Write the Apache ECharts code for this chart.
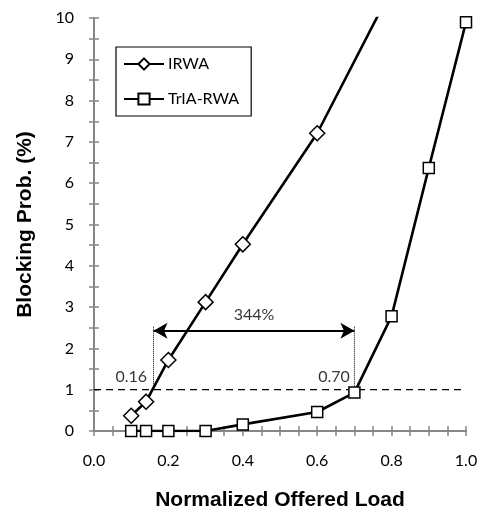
<!DOCTYPE html>
<html><head><meta charset="utf-8">
<script src="https://cdn.jsdelivr.net/npm/echarts@6/dist/echarts.min.js"></script>
<style>html,body{margin:0;padding:0;background:#fff}#c{width:480px;height:512px}</style>
</head><body><div id="c"></div>
<script>
const loadIRWA = [0.1, 0.14, 0.2, 0.3, 0.4, 0.6, 0.8];
const probIRWA = [0.37, 0.71, 1.72, 3.12, 4.52, 7.21, 10.7];
const loadTrIA = [0.1, 0.14, 0.2, 0.3, 0.4, 0.6, 0.7, 0.8, 0.9, 1.0];
const probTrIA = [0.0, 0.0, 0.0, 0.0, 0.16, 0.46, 0.93, 2.78, 6.37, 9.9];
const thresholdY = 1;
const markX = [0.16, 0.70];
const arrowY = 2.43;
const dottedTop = 2.55;
const annotations = [
  {name: '0.16', x: 0.10, y: 1.31},
  {name: '0.70', x: 0.645, y: 1.31},
  {name: '344%', x: 0.43, y: 2.82}
];
const xTicks = [0, 0.2, 0.4, 0.6, 0.8, 1.0];

const axisGrey = '#868686';
const tickFont = 'Lato';
const chart = echarts.init(document.getElementById('c'), null, {renderer: 'canvas'});
const zip = (a, b) => a.map((v, i) => [v, b[i]]);

const commonAxisLine = {show: true, lineStyle: {color: axisGrey, width: 2}};
const commonTick = {show: true, inside: true, length: 5, lineStyle: {color: axisGrey, width: 1.5}};
const commonMinor = {show: true, length: 5, lineStyle: {color: axisGrey, width: 1.5}};

chart.setOption({
  animation: false,
  grid: {left: 94, right: 14, top: 18, bottom: 81, containLabel: false, outerBoundsMode: 'none'},
  legend: {
    data: ['IRWA', 'TrIA-RWA'],
    orient: 'vertical', left: 116, top: 47,
    borderColor: '#000', borderWidth: 1.2,
    padding: [9, 12, 9, 7],
    itemWidth: 40, itemHeight: 14, itemGap: 19,
    textStyle: {fontFamily: tickFont, fontSize: 16, color: '#000', padding: [0, 0, 0, -1]}
  },
  xAxis: [{
    type: 'value', min: 0, max: 1, interval: 0.2,
    name: 'Normalized Offered Load', nameLocation: 'middle', nameGap: 59,
    nameTextStyle: {fontFamily: 'Liberation Sans', fontWeight: 'bold', fontSize: 21, color: '#000'},
    axisLine: commonAxisLine, axisTick: commonTick,
    minorTick: Object.assign({splitNumber: 4}, commonMinor),
    splitLine: {show: false},
    axisLabel: {fontFamily: tickFont, fontSize: 16, color: '#000', margin: 22,
      formatter: v => (xTicks.some(t => Math.abs(t - v) < 1e-9) ? v.toFixed(1) : '')}
  }, {
    type: 'value', min: 0, max: 1, interval: 0.2, position: 'top',
    axisLine: commonAxisLine, axisTick: commonTick,
    minorTick: Object.assign({splitNumber: 4}, commonMinor),
    splitLine: {show: false}, axisLabel: {show: false}
  }],
  yAxis: [{
    type: 'value', min: 0, max: 10, interval: 1,
    name: 'Blocking Prob. (%)', nameLocation: 'middle', nameGap: 58,
    nameTextStyle: {fontFamily: 'Liberation Sans', fontWeight: 'bold', fontSize: 21, color: '#000'},
    axisLine: commonAxisLine, axisTick: commonTick,
    minorTick: Object.assign({splitNumber: 2}, commonMinor),
    splitLine: {show: false},
    axisLabel: {fontFamily: tickFont, fontSize: 16, color: '#000', margin: 20}
  }, {
    type: 'value', min: 0, max: 10, interval: 1, position: 'right',
    axisLine: commonAxisLine, axisTick: commonTick,
    minorTick: Object.assign({splitNumber: 2}, commonMinor),
    splitLine: {show: false}, axisLabel: {show: false}
  }],
  series: [
    {
      name: 'threshold', type: 'line', data: [[0, thresholdY], [1, thresholdY]],
      symbol: 'none', silent: true, z: 1,
      lineStyle: {color: '#000', width: 1.3, type: [7, 5]}
    },
    {
      name: 'dotted1', type: 'line', data: [[markX[0], thresholdY], [markX[0], dottedTop]],
      symbol: 'none', silent: true, z: 1,
      lineStyle: {color: '#000', width: 1, type: [1, 1]}
    },
    {
      name: 'dotted2', type: 'line', data: [[markX[1], thresholdY], [markX[1], dottedTop]],
      symbol: 'none', silent: true, z: 1,
      lineStyle: {color: '#000', width: 1, type: [1, 1]},
      markLine: {
        silent: true, symbol: ['arrow', 'arrow'], symbolSize: [12, 14],
        label: {show: false},
        lineStyle: {color: '#000', width: 2.2, type: 'solid'},
        data: [[{coord: [markX[0], arrowY]}, {coord: [markX[1], arrowY]}]]
      }
    },
    {
      name: 'IRWA', type: 'line', data: zip(loadIRWA, probIRWA),
      symbol: 'diamond', symbolSize: [15, 15], z: 5,
      lineStyle: {color: '#000', width: 2.6},
      itemStyle: {color: '#fff', borderColor: '#000', borderWidth: 1.5}
    },
    {
      name: 'TrIA-RWA', type: 'line', data: zip(loadTrIA, probTrIA),
      symbol: 'rect', symbolSize: 11, z: 5,
      lineStyle: {color: '#000', width: 2.6},
      itemStyle: {color: '#fff', borderColor: '#000', borderWidth: 1.5}
    },
    {
      name: 'labels', type: 'scatter', symbolSize: 0, silent: true, z: 6,
      data: annotations.map(a => ({name: a.name, value: [a.x, a.y]})),
      label: {show: true, position: 'inside', formatter: '{b}', color: '#000',
        fontFamily: tickFont, fontSize: 16}
    }
  ]
});
</script></body></html>
